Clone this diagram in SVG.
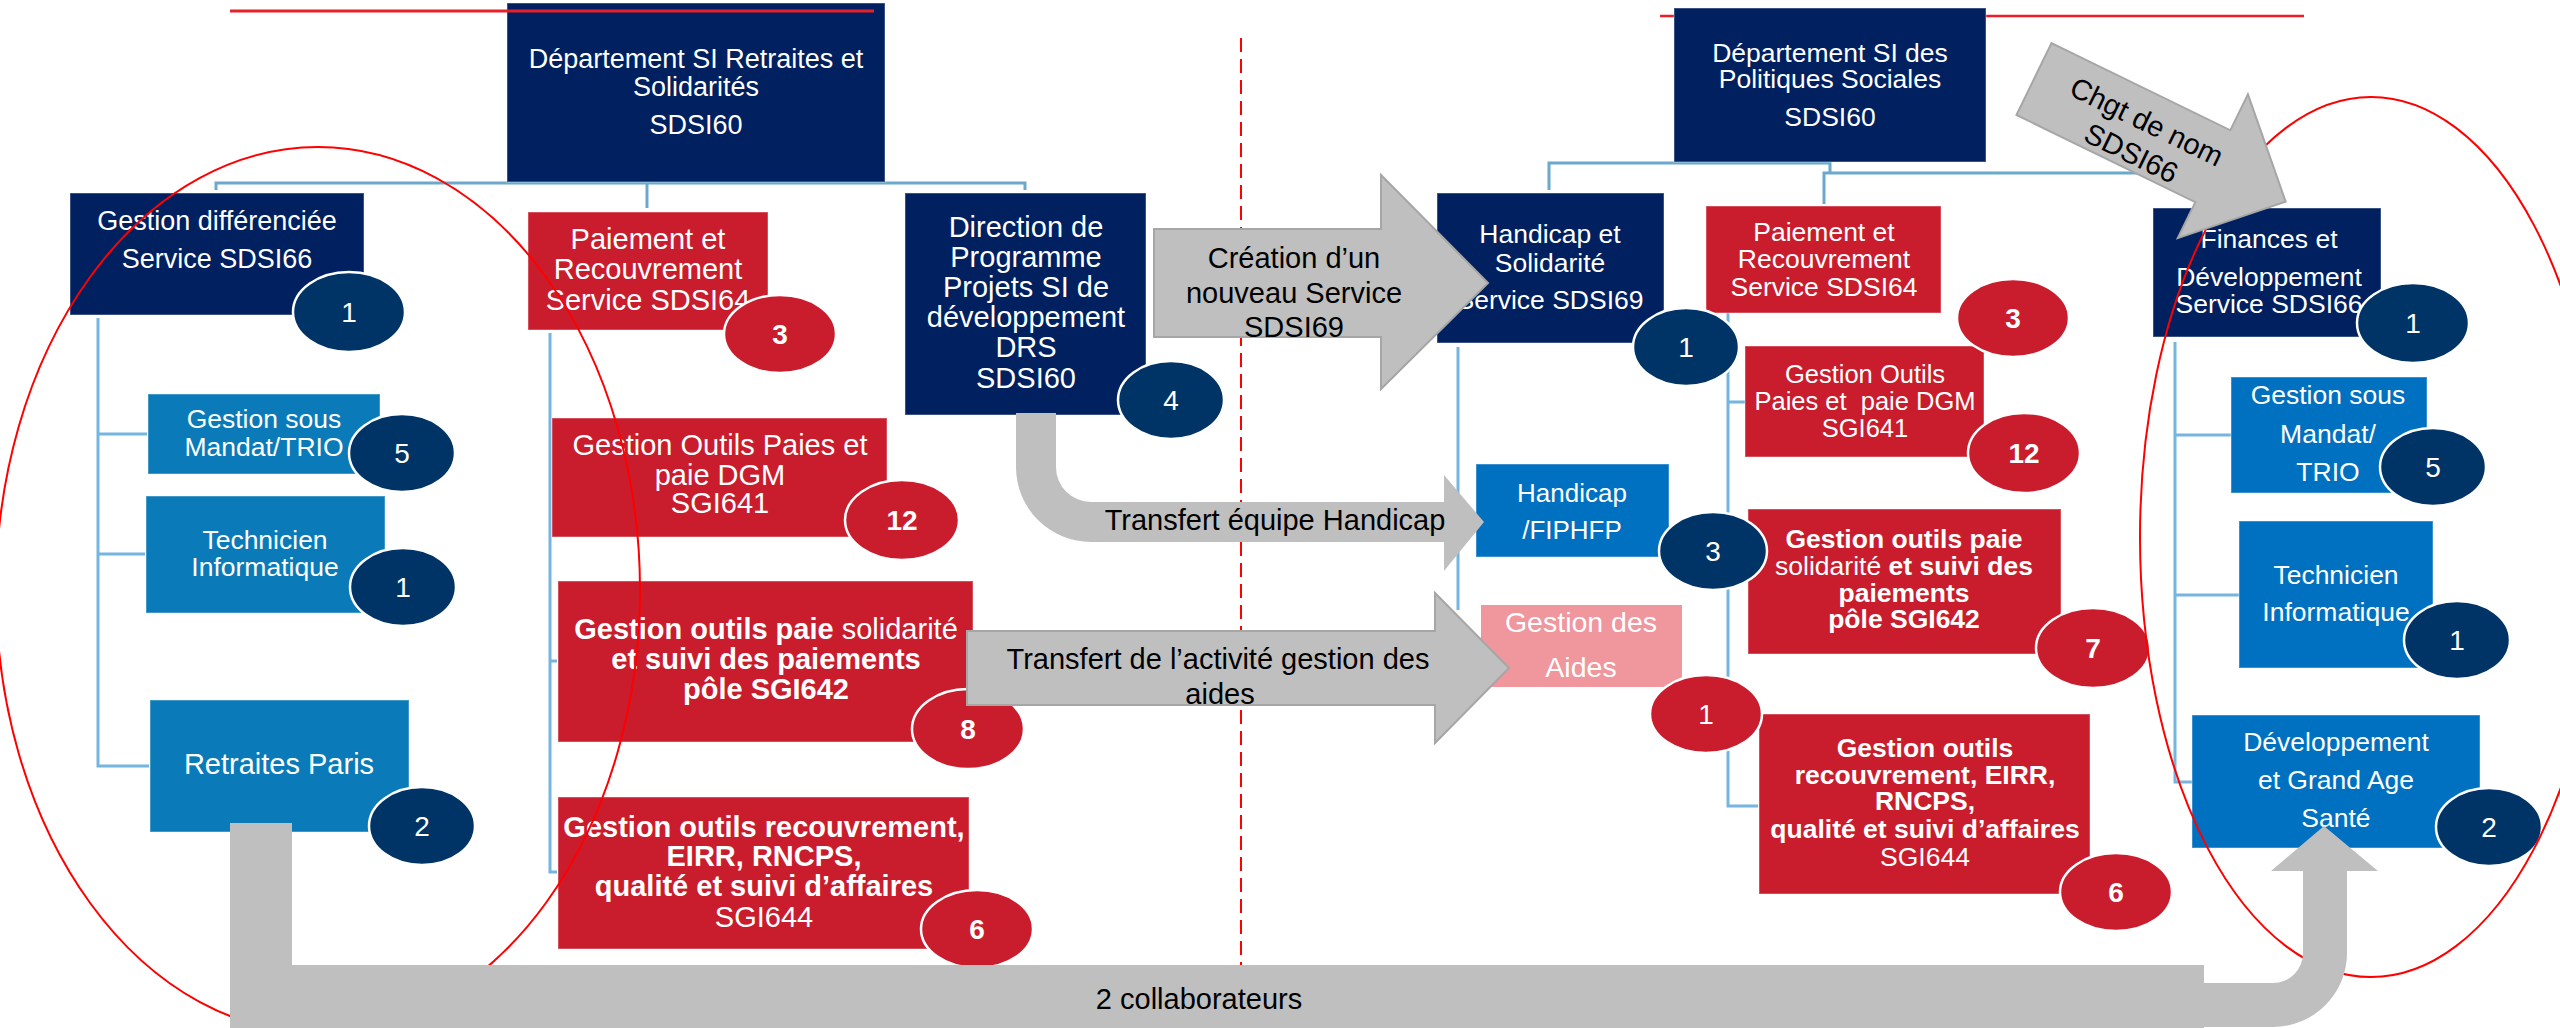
<svg xmlns="http://www.w3.org/2000/svg" width="2560" height="1028" viewBox="0 0 2560 1028">
<style>
.t{font-family:"Liberation Sans",Arial,sans-serif;fill:#fff;text-anchor:middle}
.g{fill:#000}
.b{font-weight:bold}
.navy{fill:#002060}
.red{fill:#c91d2d}
.lb{fill:#0a7bb8}
.bb{fill:#0070c0}
.pink{fill:#f0969d}
.box{stroke:#ffffff;stroke-opacity:.3;stroke-width:1.5}
.bn{fill:#003366;stroke:#fff;stroke-width:2.5}
.br{fill:#c91d2d;stroke:#fff;stroke-width:2.5}
.num{font-size:28px}
.conn{fill:none;stroke:#74b6de;stroke-width:3}
.gray{fill:#bfbfbf;stroke:#a6a6a6;stroke-width:2}
.grayn{fill:#bfbfbf}
.oval{fill:none;stroke:#ff0000;stroke-width:2}
</style>
<rect width="2560" height="1028" fill="#fff"/>
<line x1="1660" y1="16" x2="2304" y2="16" stroke="#ee1c25" stroke-width="2.5"/>
<g id="connectors" class="conn">
 <path d="M216,190 V183 H1025 V190" stroke="#6aa8cc"/>
 <path d="M647,208 V184" stroke="#6aa8cc"/>
 <path d="M98,318 V766 H149 M98,434 H147 M98,554 H145"/>
 <path d="M550,333 V872 H557 M550,661 H557"/>
 <path d="M1549,190 V163 H1830 V173" stroke="#6aa8cc"/>
 <path d="M1824,204 V173 H2267 V208" stroke="#6aa8cc"/>
 <path d="M1458,347 V610"/>
 <path d="M1728,313 V806 H1758 M1728,402 H1746 M1728,580 H1748"/>
 <path d="M2175,342 V782 H2192 M2175,435 H2231 M2175,595 H2239"/>
</g>
<line x1="1241" y1="38" x2="1241" y2="966" stroke="#ff0000" stroke-width="2" stroke-dasharray="14 7"/>

<g id="dept-retraites"><rect class="navy box" x="507" y="3" width="378" height="179"/>
<text class="t" font-size="27"><tspan x="696" y="68">Département SI Retraites et</tspan><tspan x="696" y="96">Solidarités</tspan><tspan x="696" y="134">SDSI60</tspan></text></g>

<g id="gestion-diff"><rect class="navy box" x="70" y="193" width="294" height="122"/>
<text class="t" font-size="27"><tspan x="217" y="230">Gestion différenciée</tspan><tspan x="217" y="268">Service SDSI66</tspan></text></g>

<g id="mandat-left"><rect class="lb box" x="148" y="394" width="232" height="80"/>
<text class="t" font-size="26.5"><tspan x="264" y="428">Gestion sous</tspan><tspan x="264" y="456">Mandat/TRIO</tspan></text></g>

<g id="tech-left"><rect class="lb box" x="146" y="496" width="239" height="117"/>
<text class="t" font-size="26.5"><tspan x="265" y="549">Technicien</tspan><tspan x="265" y="576">Informatique</tspan></text></g>

<g id="retraites-paris"><rect class="lb box" x="150" y="700" width="259" height="132"/>
<text class="t" font-size="29" x="279" y="774">Retraites Paris</text></g>

<g id="paiement-left"><rect class="red box" x="528" y="212" width="240" height="118"/>
<text class="t" font-size="29"><tspan x="648" y="249">Paiement et</tspan><tspan x="648" y="279">Recouvrement</tspan><tspan x="648" y="310">Service SDSI64</tspan></text></g>

<g id="outils-paies-left"><rect class="red box" x="552" y="418" width="335" height="119"/>
<text class="t" font-size="29"><tspan x="720" y="455">Gestion Outils Paies et</tspan><tspan x="720" y="485">paie DGM</tspan><tspan x="720" y="513">SGI641</tspan></text></g>

<g id="sgi642-left"><rect class="red box" x="558" y="581" width="415" height="161"/>
<text class="t" font-size="29"><tspan x="766" y="639" font-weight="bold">Gestion outils paie</tspan><tspan> solidarité</tspan><tspan x="766" y="669" font-weight="bold">et suivi des paiements</tspan><tspan x="766" y="699" font-weight="bold">pôle SGI642</tspan></text></g>

<g id="sgi644-left"><rect class="red box" x="558" y="797" width="411" height="152"/>
<text class="t" font-size="29"><tspan x="764" y="837" font-weight="bold">Gestion outils recouvrement,</tspan><tspan x="764" y="866" font-weight="bold">EIRR, RNCPS,</tspan><tspan x="764" y="896" font-weight="bold">qualité et suivi d’affaires</tspan><tspan x="764" y="927">SGI644</tspan></text></g>

<g id="direction-drs"><rect class="navy box" x="905" y="193" width="241" height="222"/>
<text class="t" font-size="29"><tspan x="1026" y="237">Direction de</tspan><tspan x="1026" y="267">Programme</tspan><tspan x="1026" y="297">Projets SI de</tspan><tspan x="1026" y="327">développement</tspan><tspan x="1026" y="357">DRS</tspan><tspan x="1026" y="388">SDSI60</tspan></text></g>

<g id="dept-politiques"><rect class="navy box" x="1674" y="8" width="312" height="154"/>
<text class="t" font-size="26.5"><tspan x="1830" y="62">Département SI des</tspan><tspan x="1830" y="88">Politiques Sociales</tspan><tspan x="1830" y="126">SDSI60</tspan></text></g>

<g id="handicap-solidarite"><rect class="navy box" x="1437" y="193" width="227" height="150"/>
<text class="t" font-size="26.5"><tspan x="1550" y="243">Handicap et</tspan><tspan x="1550" y="272">Solidarité</tspan><tspan x="1550" y="309">Service SDSI69</tspan></text></g>

<g id="fiphfp"><rect class="bb box" x="1476" y="464" width="193" height="93"/>
<text class="t" font-size="26"><tspan x="1572" y="502">Handicap</tspan><tspan x="1572" y="539">/FIPHFP</tspan></text></g>

<g id="gestion-aides"><rect class="pink" x="1481" y="605" width="201" height="82"/>
<text class="t" font-size="28.5"><tspan x="1581" y="632">Gestion des</tspan><tspan x="1581" y="677">Aides</tspan></text></g>

<g id="paiement-right"><rect class="red box" x="1706" y="206" width="235" height="107"/>
<text class="t" font-size="26.5"><tspan x="1824" y="241">Paiement et</tspan><tspan x="1824" y="268">Recouvrement</tspan><tspan x="1824" y="296">Service SDSI64</tspan></text></g>

<g id="outils-paies-right"><rect class="red box" x="1745" y="346" width="239" height="111"/>
<text class="t" font-size="25.5" xml:space="preserve"><tspan x="1865" y="383">Gestion Outils</tspan><tspan x="1865" y="410">Paies et  paie DGM</tspan><tspan x="1865" y="437">SGI641</tspan></text></g>

<g id="sgi642-right"><rect class="red box" x="1748" y="509" width="313" height="145"/>
<text class="t" font-size="26.5"><tspan x="1904" y="548" font-weight="bold">Gestion outils paie</tspan><tspan x="1904" y="575">solidarité</tspan><tspan font-weight="bold"> et suivi des</tspan><tspan x="1904" y="602" font-weight="bold">paiements</tspan><tspan x="1904" y="628" font-weight="bold">pôle SGI642</tspan></text></g>

<g id="sgi644-right"><rect class="red box" x="1759" y="714" width="331" height="180"/>
<text class="t" font-size="26.5"><tspan x="1925" y="757" font-weight="bold">Gestion outils</tspan><tspan x="1925" y="784" font-weight="bold">recouvrement, EIRR,</tspan><tspan x="1925" y="810" font-weight="bold">RNCPS,</tspan><tspan x="1925" y="838" font-weight="bold">qualité et suivi d’affaires</tspan><tspan x="1925" y="866">SGI644</tspan></text></g>

<g id="finances"><rect class="navy box" x="2153" y="208" width="228" height="129"/>
<text class="t" font-size="26.5"><tspan x="2269" y="248">Finances et</tspan><tspan x="2269" y="286">Développement</tspan><tspan x="2269" y="313">Service SDSI66</tspan></text></g>

<g id="mandat-right"><rect class="bb box" x="2231" y="377" width="196" height="116"/>
<text class="t" font-size="26.5"><tspan x="2328" y="404">Gestion sous</tspan><tspan x="2328" y="443">Mandat/</tspan><tspan x="2328" y="481">TRIO</tspan></text></g>

<g id="tech-right"><rect class="bb box" x="2239" y="521" width="194" height="147"/>
<text class="t" font-size="26.5"><tspan x="2336" y="584">Technicien</tspan><tspan x="2336" y="621">Informatique</tspan></text></g>

<g id="grand-age"><rect class="bb box" x="2192" y="715" width="288" height="133"/>
<text class="t" font-size="26.5"><tspan x="2336" y="751">Développement</tspan><tspan x="2336" y="789">et Grand Age</tspan><tspan x="2336" y="827">Santé</tspan></text></g>

<g id="badges">
 <g id="badge-gd"><ellipse class="bn" cx="349" cy="312" rx="56" ry="40"/><text class="t num" x="349" y="322">1</text></g>
 <g id="badge-mandat-l"><ellipse class="bn" cx="402" cy="453" rx="53" ry="39"/><text class="t num" x="402" y="463">5</text></g>
 <g id="badge-tech-l"><ellipse class="bn" cx="403" cy="587" rx="53" ry="39"/><text class="t num" x="403" y="597">1</text></g>
 <g id="badge-paris"><ellipse class="bn" cx="422" cy="826" rx="53" ry="39"/><text class="t num" x="422" y="836">2</text></g>
 <g id="badge-pai-l"><ellipse class="br" cx="780" cy="334" rx="56" ry="39"/><text class="t num b" x="780" y="344">3</text></g>
 <g id="badge-641-l"><ellipse class="br" cx="902" cy="520" rx="57" ry="40"/><text class="t num b" x="902" y="530">12</text></g>
 <g id="badge-642-l"><ellipse class="br" cx="968" cy="729" rx="56" ry="40"/><text class="t num b" x="968" y="739">8</text></g>
 <g id="badge-644-l"><ellipse class="br" cx="977" cy="929" rx="56" ry="39"/><text class="t num b" x="977" y="939">6</text></g>
 <g id="badge-drs"><ellipse class="bn" cx="1171" cy="400" rx="53" ry="39"/><text class="t num" x="1171" y="410">4</text></g>
 <g id="badge-hs"><ellipse class="bn" cx="1686" cy="347" rx="53" ry="39"/><text class="t num" x="1686" y="357">1</text></g>
 <g id="badge-pai-r"><ellipse class="br" cx="2013" cy="318" rx="56" ry="39"/><text class="t num b" x="2013" y="328">3</text></g>
 <g id="badge-641-r"><ellipse class="br" cx="2024" cy="453" rx="56" ry="40"/><text class="t num b" x="2024" y="463">12</text></g>
 <g id="badge-fiphfp"><ellipse class="bn" cx="1713" cy="551" rx="54" ry="39"/><text class="t num" x="1713" y="561">3</text></g>
 <g id="badge-aides"><ellipse class="br" cx="1706" cy="714" rx="56" ry="39"/><text class="t num" x="1706" y="724">1</text></g>
 <g id="badge-642-r"><ellipse class="br" cx="2093" cy="648" rx="57" ry="40"/><text class="t num b" x="2093" y="658">7</text></g>
 <g id="badge-644-r"><ellipse class="br" cx="2116" cy="892" rx="56" ry="39"/><text class="t num b" x="2116" y="902">6</text></g>
 <g id="badge-fin"><ellipse class="bn" cx="2413" cy="323" rx="56" ry="40"/><text class="t num" x="2413" y="333">1</text></g>
 <g id="badge-mandat-r"><ellipse class="bn" cx="2433" cy="467" rx="53" ry="39"/><text class="t num" x="2433" y="477">5</text></g>
 <g id="badge-tech-r"><ellipse class="bn" cx="2457" cy="640" rx="53" ry="39"/><text class="t num" x="2457" y="650">1</text></g>
 <g id="badge-ga"><ellipse class="bn" cx="2489" cy="827" rx="53" ry="39"/><text class="t num" x="2489" y="837">2</text></g>
</g>

<line x1="230" y1="11" x2="874" y2="11" stroke="#e8202a" stroke-width="3"/>
<ellipse class="oval" cx="318" cy="590" rx="322" ry="443"/>
<ellipse class="oval" cx="2371" cy="537" rx="231" ry="440"/>

<g id="arrows">
 <g id="arrow-creation"><polygon class="gray" points="1154,229 1381,229 1381,175 1488,283 1381,389 1381,337 1154,337"/>
 <text class="t g" font-size="29"><tspan x="1294" y="268">Création d’un</tspan><tspan x="1294" y="303">nouveau Service</tspan><tspan x="1294" y="337">SDSI69</tspan></text></g>
 <g id="arrow-handicap"><path class="grayn" d="M1016,413 H1056 V467 A35,35 0 0 0 1091,502 H1444 V475 L1484,522 L1444,571 V542 H1091 A75,75 0 0 1 1016,467 Z"/>
 <text class="t g" font-size="29" x="1275" y="530">Transfert équipe Handicap</text></g>
 <g id="arrow-aides"><polygon class="gray" points="967,631 1435,631 1435,593 1509,668 1435,743 1435,705 967,705"/>
 <text class="t g" font-size="29"><tspan x="1218" y="669">Transfert de l’activité gestion des</tspan><tspan x="1220" y="704">aides</tspan></text></g>
 <g id="arrow-chgt" transform="translate(2034,79) rotate(26)"><polygon class="gray" points="0,-40 199,-40 199,-80 280,0 199,80 199,40 0,40"/>
 <text class="t g" font-size="29"><tspan x="120" y="-1">Chgt de nom</tspan><tspan x="120" y="34">SDSI66</tspan></text></g>
 <g id="arrow-collab"><path class="grayn" d="M230,823 H292 V965 H2204 V1028 H230 Z"/>
 <path class="grayn" d="M2150,983 H2273 A30,30 0 0 0 2303,953 V871 H2271 L2324,826 L2378,871 H2347 V953 A74,74 0 0 1 2273,1027 H2150 Z"/>
 <text class="t g" font-size="29" x="1199" y="1009">2 collaborateurs</text></g>
</g>
</svg>
